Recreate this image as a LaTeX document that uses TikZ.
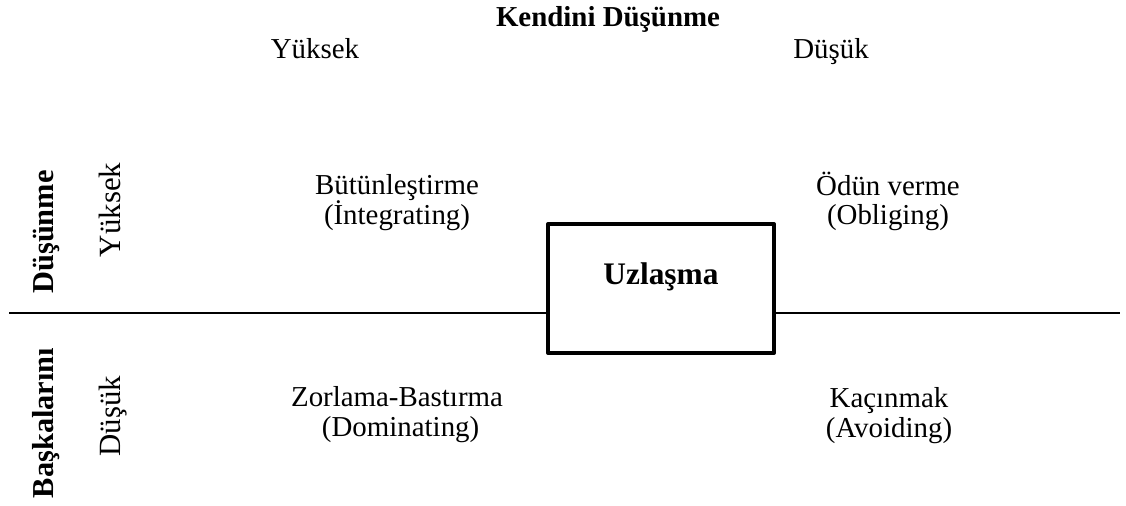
\documentclass[tikz,border=0pt]{standalone}
\usepackage{fontspec}
\setmainfont{Liberation Serif}
\begin{document}
\begin{tikzpicture}[x=1bp,y=-1bp,
  every node/.style={font=\fontsize{29}{30}\selectfont, inner sep=0pt},
  etiket/.style={align=center, anchor=base},
  baslik/.style={anchor=base, font=\fontsize{29}{30}\selectfont\bfseries},
  dikey/.style={rotate=90, anchor=base, font=\fontsize{31}{32}\selectfont},
  dikeybaslik/.style={rotate=90, anchor=base, font=\fontsize{30.5}{32}\selectfont\bfseries},
  uzlasmakutu/.style={draw, line width=4bp, line join=round, minimum width=226bp, minimum height=129bp}]
\useasboundingbox (0,0) rectangle (1126,506);
\node[baslik] (kendini) at (608,27) {Kendini Düşünme};
\node[anchor=base] (kyuksek) at (315,59) {Yüksek};
\node[anchor=base] (kdusuk) at (831,59) {Düşük};
\node[dikeybaslik] (bdusunme) at (53,232) {Düşünme};
\node[dikeybaslik] (baskalari) at (53,423) {Başkalarını};
\node[dikey] (byuksek) at (120,210) {Yüksek};
\node[dikey] (bdusuk) at (120,416) {Düşük};
\node[etiket] (integ) at (397,225) {Bütünleştirme\\(İntegrating)};
\node[etiket] (oblig) at (888,225) {Ödün verme\\(Obliging)};
\node[etiket] (domin) at (397,436) {Zorlama-Bastırma\\\ (Dominating)};
\node[etiket] (avoid) at (889,437) {Kaçınmak\\(Avoiding)};
\node[uzlasmakutu] (uzlasma) at (661,288.5) {};
\node[baslik, font=\fontsize{31.5}{32}\selectfont\bfseries] (uzlasmayazi) at ([yshift=3.5bp]uzlasma.center) {Uzlaşma};
\coordinate (sol) at (9,313);
\coordinate (sag) at (1120,313);
\draw[line width=2.5bp] (sol) -- (sol -| uzlasma.west);
\draw[line width=2.5bp] (uzlasma.east |- sag) -- (sag);
\end{tikzpicture}
\end{document}
